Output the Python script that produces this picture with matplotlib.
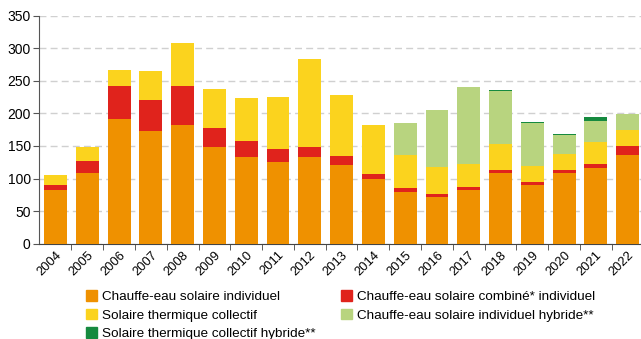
import numpy as np
import matplotlib.pyplot as plt
from matplotlib.patches import Patch

plt.rcParams['font.family'] = ['Liberation Sans', 'DejaVu Sans']

# Années
annees = [str(a) for a in range(2004, 2023)]

# Séries (valeurs empilées)
cesi = [82, 108, 191, 173, 182, 148, 133, 125, 133, 121, 99, 79, 72, 82, 108, 90, 108, 116, 136]
combine = [8, 19, 51, 47, 60, 29, 24, 20, 15, 14, 8, 6, 4, 5, 5, 5, 5, 6, 14]
collectif = [15, 22, 24, 45, 66, 60, 66, 80, 135, 93, 75, 51, 42, 35, 40, 24, 24, 34, 24]
cesi_hybride = [0, 0, 0, 0, 0, 0, 0, 0, 0, 0, 0, 49, 87, 118, 81, 66, 29, 32, 25]
collectif_hybride = [0, 0, 0, 0, 0, 0, 0, 0, 0, 0, 0, 0, 0, 0, 1.5, 1.5, 3, 6, 0]

series = [cesi, combine, collectif, cesi_hybride, collectif_hybride]
couleurs = ['#EF9100', '#E0231C', '#FBD31E', '#B8D47F', '#168A3F']
noms = ['Chauffe-eau solaire individuel', 'Chauffe-eau solaire combiné* individuel',
        'Solaire thermique collectif', 'Chauffe-eau solaire individuel hybride**',
        'Solaire thermique collectif hybride**']

fig = plt.figure(figsize=(6.41, 3.39), dpi=100)
ax = fig.add_axes([39/641, 1 - 243.7/339, 602/641, 228.2/339])

x = np.arange(len(annees))
bas = np.zeros(len(annees))
for valeurs, c in zip(series, couleurs):
    ax.bar(x, valeurs, 0.72, bottom=bas, color=c, zorder=3)
    bas += np.array(valeurs)

ax.set_xlim(-0.52, 18.42)
ax.set_ylim(0, 350)
ax.set_yticks(range(0, 351, 50))
ax.grid(axis='y', color='#d0d0d0', linestyle=(0, (5, 3)), linewidth=1, zorder=0)

for s in ['top', 'right']:
    ax.spines[s].set_visible(False)
ax.spines['left'].set_color('#555555')
ax.spines['bottom'].set_color('#444444')

ax.set_xticks(x)
ax.set_xticklabels(annees, rotation=45, ha='right', rotation_mode='anchor', fontsize=9.3)
ax.tick_params(axis='x', which='major', length=0, pad=4)
ax.set_xticks(x[:-1] + 0.5, minor=True)
ax.tick_params(axis='x', which='minor', length=4, color='#444444')
ax.tick_params(axis='y', length=4, color='#555555', labelsize=10, pad=2)

# Légende sous le graphique
ordre = [0, 2, 4, 1, 3]
poignees = [Patch(color=couleurs[i], label=noms[i]) for i in ordre]
fig.legend(handles=poignees, loc='upper left', bbox_to_anchor=(86/641, 1 - 290/339),
           ncol=2, frameon=False, fontsize=9.7, handlelength=0.85, handleheight=0.85,
           handletextpad=0.35, columnspacing=1.85, labelspacing=0.42, borderaxespad=0,
           borderpad=0)

fig.savefig('out.png', dpi=100)
